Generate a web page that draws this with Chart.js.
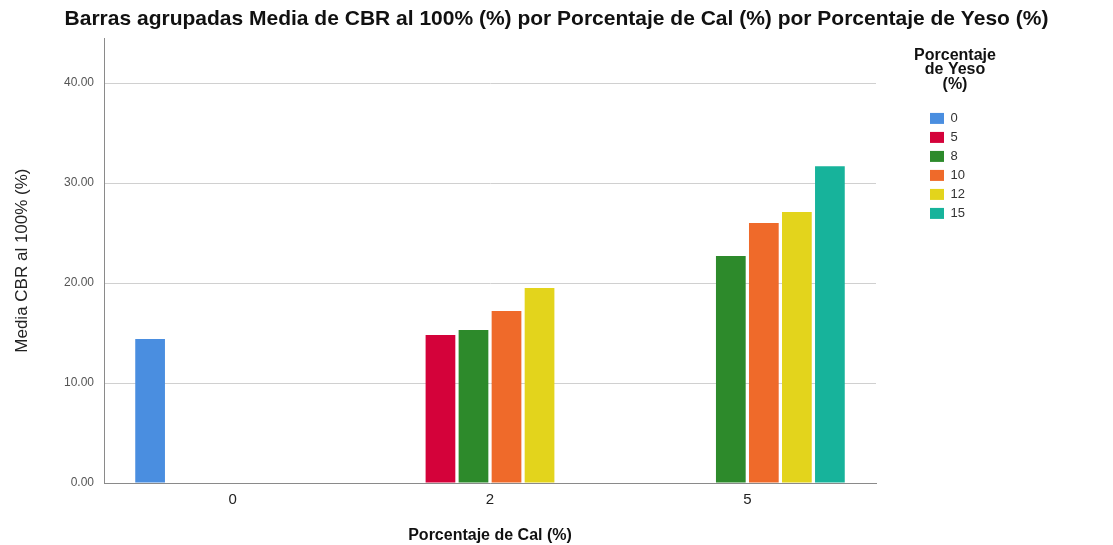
<!DOCTYPE html>
<html>
<head>
<meta charset="utf-8">
<script src="https://cdn.jsdelivr.net/npm/chart.js@4/dist/chart.umd.min.js"></script>
<style>
  html, body { margin: 0; padding: 0; background: #ffffff; }
  #wrap { width: 1113px; height: 545px; position: relative; }
</style>
</head>
<body>
<div id="wrap"><canvas id="c"></canvas></div>
<script>
// ---- data ----
const calCategories = ['0', '2', '5'];
const yesoLabels = ['0', '5', '8', '10', '12', '15'];
const yeso0  = [14.4, null, null];
const yeso5  = [null, 14.8, null];
const yeso8  = [null, 15.3, 22.7];
const yeso10 = [null, 17.2, 26.0];
const yeso12 = [null, 19.5, 27.1];
const yeso15 = [null, null, 31.7];
const yTickValues = [0, 10, 20, 30, 40];

const seriesValues = [yeso0, yeso5, yeso8, yeso10, yeso12, yeso15];
const seriesColors = ['#4a8ee0', '#d4023a', '#2d8a2b', '#ef6a2a', '#e3d41c', '#17b39b'];

const datasets = yesoLabels.map((lab, i) => ({
  label: lab,
  data: seriesValues[i],
  backgroundColor: seriesColors[i],
  borderWidth: 0,
  barPercentage: 0.9,
  categoryPercentage: 0.77,
  xAxisID: 'x',
  yAxisID: 'y'
}));

const LEGEND_W = 62;
// keep the legend box narrow but let its multi-line title overflow the box
const legendTweaks = {
  id: 'legendTweaks',
  beforeLayout(chart) {
    const lg = chart.legend;
    if (lg && !lg._tweaked) {
      const origFit = lg.fit;
      lg.fit = function () { origFit.call(this); this.width = LEGEND_W; };
      const origDraw = lg.draw;
      lg.draw = function () {
        const ctx = this.ctx;
        ctx.clip = function () {};
        try { origDraw.call(this); } finally { delete ctx.clip; }
      };
      lg._tweaked = true;
    }
  }
};

Chart.defaults.font.family = '"Liberation Sans", Arial, sans-serif';
Chart.defaults.color = '#333';

new Chart(document.getElementById('c'), {
  type: 'bar',
  data: { labels: calCategories, datasets },
  plugins: [legendTweaks],
  options: {
    responsive: true,
    maintainAspectRatio: false,
    animation: false,
    layout: { padding: 0 },
    plugins: {
      title: {
        display: true,
        text: 'Barras agrupadas Media de CBR al 100% (%) por Porcentaje de Cal (%) por Porcentaje de Yeso (%)',
        color: '#111',
        font: { size: 21, weight: 'bold' },
        padding: { top: 7, bottom: 6 }
      },
      legend: {
        display: true,
        position: 'right',
        align: 'start',
        fullSize: false,
        title: {
          display: true,
          text: ['Porcentaje', 'de Yeso', '(%)'],
          color: '#111',
          font: { size: 16, weight: 'bold', lineHeight: 0.92 },
          padding: { top: 9, bottom: 44 }
        },
        labels: {
          boxWidth: 14,
          boxHeight: 11,
          padding: 6,
          color: '#333',
          font: { size: 13 }
        }
      },
      tooltip: { enabled: false }
    },
    scales: {
      x: {
        type: 'category',
        position: 'bottom',
        offset: true,
        grid: { display: false, drawTicks: false },
        border: { display: true, color: '#8a8a8a', width: 1 },
        ticks: { color: '#222', font: { size: 15 }, padding: 8 },
        title: {
          display: true,
          text: 'Porcentaje de Cal (%)',
          color: '#111',
          font: { size: 16, weight: 'bold' },
          padding: { top: 4, bottom: 0 }
        },
        afterFit(s) { s.height = 62; }
      },
      y: {
        type: 'linear',
        position: 'left',
        min: 0,
        max: 44.5,
        grid: { display: true, color: '#d0d0d0', lineWidth: 1, drawTicks: false },
        border: { display: true, color: '#8a8a8a', width: 1 },
        ticks: {
          stepSize: 10,
          color: '#555',
          font: { size: 12 },
          padding: 10,
          callback: (v) => Number(v).toFixed(2)
        },
        afterBuildTicks(s) { s.ticks = yTickValues.map(v => ({ value: v })); },
        title: {
          display: true,
          text: 'Media CBR al 100% (%)',
          color: '#222',
          font: { size: 17 },
          padding: { top: 12, bottom: 4 }
        },
        afterFit(s) { s.width = 104; }
      },
      gapInner: {
        type: 'linear',
        position: 'right',
        weight: 0,
        display: true,
        grid: { display: false, drawTicks: false },
        border: { display: false },
        ticks: { display: false },
        afterFit(s) { s.width = 48; }
      },
      gapOuter: {
        type: 'linear',
        position: 'right',
        weight: 5000,
        display: true,
        grid: { display: false, drawTicks: false },
        border: { display: false },
        ticks: { display: false },
        afterFit(s) { s.width = 127; }
      }
    }
  }
});
</script>
</body>
</html>
